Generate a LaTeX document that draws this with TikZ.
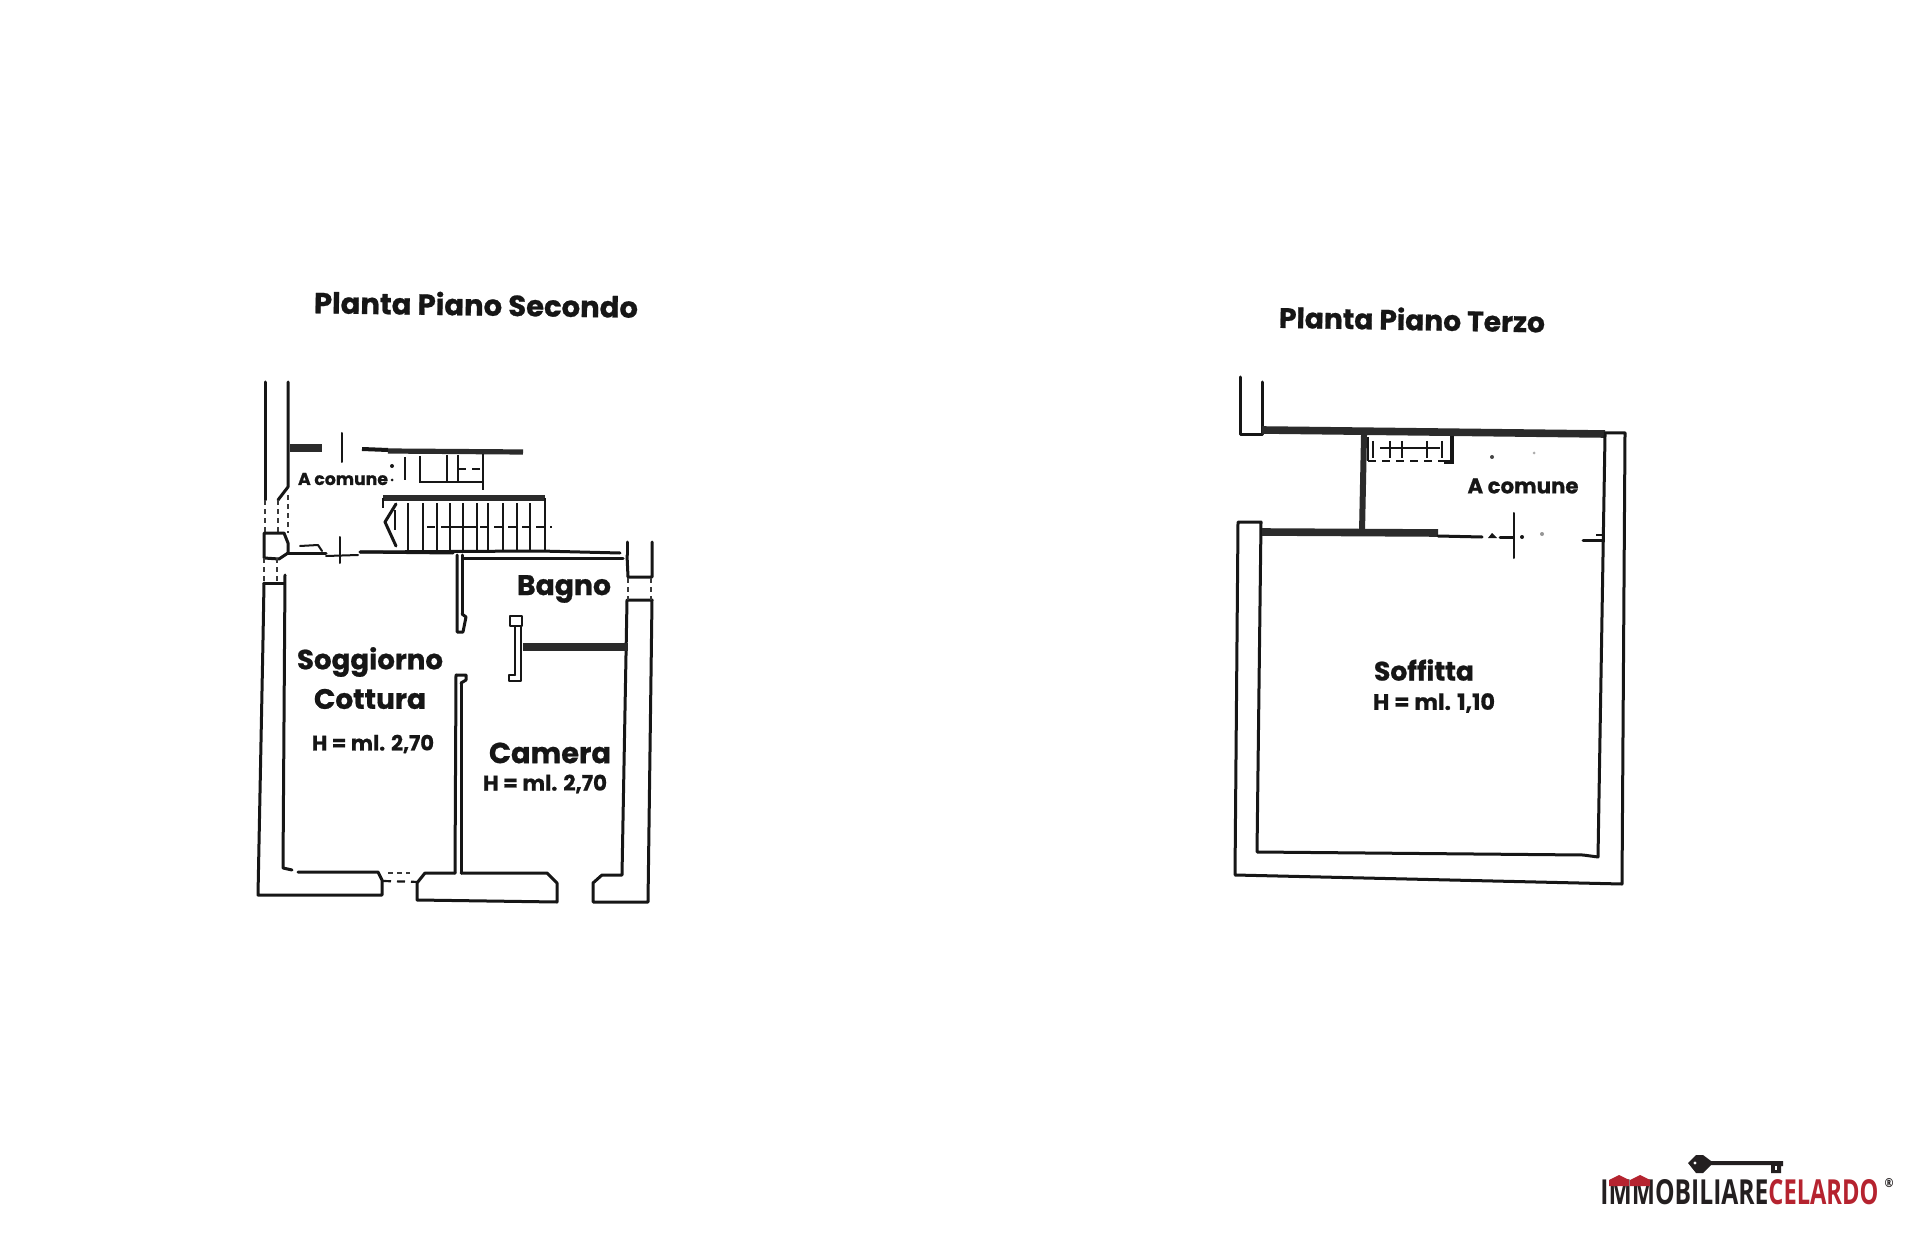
\documentclass[tikz,border=0pt]{standalone}
\usepackage{fontspec}
\setmainfont{Poppins}[BoldFeatures={FakeBold=0.8}]
\newfontfamily\logofont{Open Sans}
\usetikzlibrary{calc}
\definecolor{ink}{HTML}{161616}
\definecolor{heavyink}{HTML}{2B2B2B}
\definecolor{logored}{HTML}{B5232F}
\definecolor{logoblack}{HTML}{231F20}
\newcommand{\fitw}[2]{\resizebox{\dimexpr #1pt/2\relax}{!}{\bfseries #2}}
\newcommand{\fitbox}[3]{\resizebox{\dimexpr #1pt/2\relax}{\dimexpr #2pt/2\relax}{#3}}
\tikzset{
  x=0.5pt,y=-0.5pt,
  wall/.style={draw=ink,line width=1.5pt,line join=round,line cap=round},
  thin wall/.style={draw=ink,line width=1pt,line join=round,line cap=round},
  heavy/.style={draw=heavyink,line width=3.8pt,line cap=butt},
  rung/.style={draw=ink,line width=1.1pt},
  dashline/.style={draw=ink,line width=1.1pt,dash pattern=on 4pt off 3pt},
  dotline/.style={draw=ink!85,line width=1pt,dash pattern=on 2.5pt off 2pt},
  lbl/.style={inner sep=0pt,text=ink},
}
\begin{document}
\begin{tikzpicture}
\useasboundingbox[fill=white] (0,0) rectangle (1920,1240);

%% ---------- Left plan: Piano Secondo ----------
% left outer wall, upper part
\path[wall] (265,382) -- (265,500);
\path[dotline] (265,500) -- (265,533);
\path[wall] (288,382) -- (288,487) -- (278,500);
\path[dotline] (278,500) -- (278,533);
\path[dotline] (288,495) -- (288,533);
% pillar
\path[wall] (264,558) -- (264,533) -- (284,533) -- (288,543) -- (288,553) -- (279,559) -- (264,558);
% window below pillar
\path[dotline] (264,558) -- (264,583);
\path[dotline] (277,558) -- (277,583);
\path[wall] (264,583) -- (284,583);
% left wall and bottom left wall
\path[wall] (264,583) -- (263,640) -- (258,895) -- (382,895) -- (382,880) -- (378,872) -- (298,872);
\path[wall] (285,575) -- (283,868) -- (292,870);
% bottom window
\path[dashline] (383,881) -- (420,882);
\path[dotline] (388,873) -- (410,873);
% bottom central wall
\path[wall] (461,873) -- (547,873) -- (557,883) -- (557,902) -- (417,900) -- (417,883) -- (425,873) -- (455,873);
% bottom right wall
\path[wall] (593,902) -- (593,883) -- (602,875) -- (622,875) -- (627,600) -- (652,600) -- (648,902) -- cycle;
% right window
\path[wall] (627,542) -- (627,555);
\path[wall] (652,542) -- (652,577) -- (628,577) -- (627,555);
\path[dotline] (628,578) -- (628,600);
\path[dotline] (651,578) -- (651,600);
% corridor floor wall
\path[wall] (287,553) -- (326,553);
\path[thin wall] (300,546) -- (318,545) -- (322,551);
\path[thin wall] (326,556) -- (358,555);
\path[wall] (360,552) -- (453,553);
\path[wall] (360,552) -- (540,551) -- (620,553);
\path[wall] (463,558) -- (623,558);
\path[thin wall] (340,537) -- (340,563);
% top stubs
\path[heavy] (290,448) -- (322,448);
\path[thin wall] (342,433) -- (342,462);
\path[draw=ink,line width=2pt] (362,449) -- (388,450);
\path[draw=heavyink,line width=2.6pt] (388,451) -- (523,452);
% upper stairs
\path[rung] (405,457) -- (405,480);
\path[rung] (420,456) -- (420,482) -- (483,482) -- (483,454);
\path[rung] (447,455) -- (447,482);
\path[rung] (458,455) -- (458,482);
\path[rung] (483,482) -- (483,490);
\path[dashline] (458,469) -- (480,469);
\path[fill=ink] (392,466) circle[radius=2];
\path[fill=ink] (392,480) circle[radius=1.5];
% lower stairs
\path[draw=heavyink,line width=2.6pt] (383,498) -- (545,498);
\path[rung] (383,498) -- (383,508);
\path[rung] (545,498) -- (545,550);
\foreach \xx in {408,423,437,450,463,477,488,503,517,530} {\path[rung] (\xx,503) -- (\xx,550);}
\path[wall] (396,504) -- (385,522) -- (396,546);
\path[rung] (395,510) -- (395,530);
\path[dashline] (427,527) -- (450,527);
\path[rung] (450,527) -- (477,527);
\path[dashline] (480,527) -- (552,527);
% partition upper
\path[wall] (457,555) -- (457,632) -- (463,632) -- (466,617) -- (462,614);
\path[wall] (462,555) -- (462,614);
% partition lower
\path[wall] (456,675) -- (455,873);
\path[wall] (461,683) -- (461,873);
\path[wall] (456,675) -- (466,675) -- (466,680) -- (461,683);
% Bagno door jamb
\path[thin wall] (510,616) rectangle (522,626);
\path[thin wall] (515,626) -- (515,675);
\path[thin wall] (521,626) -- (521,681) -- (509,681) -- (509,675) -- (515,675);
% Bagno / Camera wall
\path[heavy] (523,647) -- (628,647);

%% ---------- Right plan: Piano Terzo ----------
\path[wall] (1240,377) -- (1240,435) -- (1262,435) -- (1262,382);
\path[heavy] (1262,430) -- (1605,434);
\path[wall] (1605,433) -- (1625,433) -- (1622,884) -- (1235,875) -- (1238,522) -- (1261,522) -- (1257,852) -- (1583,855) -- (1598,857) -- (1605,435);
% mid wall
\path[heavy] (1262,532) -- (1438,533);
\path[wall] (1438,536) -- (1482,537);
\path[fill=ink] (1488,538) -- (1492,533) -- (1497,538) -- cycle;
\path[wall] (1500,537) -- (1513,537);
\path[thin wall] (1514,513) -- (1514,558);
\path[fill=ink] (1522,537) circle[radius=2];
\path[fill=ink!45] (1542,534) circle[radius=2];
\path[wall] (1583,540) -- (1602,540);
\path[draw=ink,line width=1.2pt] (1596,535) -- (1602,535);
% vertical wall
\path[draw=heavyink,line width=3pt] (1364,435) -- (1362,532);
% stairs
\path[rung] (1368,437) -- (1368,461);
\path[draw=ink,line width=2pt] (1452,436) -- (1452,462) -- (1444,462);
\path[dashline] (1368,461) -- (1445,461);
\path[rung] (1380,448) -- (1440,448);
\foreach \xx in {1373,1390,1402,1427,1442} {\path[rung] (\xx,441) -- (\xx,458);}
\path[fill=ink!80] (1492,457) circle[radius=2];
\path[fill=ink!35] (1534,453) circle[radius=1.5];

%% ---------- Texts ----------
\node[lbl,rotate=-0.8] (titleA) at (476,304) {\fitw{324}{Planta Piano Secondo}};
\node[lbl,rotate=-1] (titleB) at (1412,319) {\fitw{266}{Planta Piano Terzo}};
\node[lbl] (comA) at (343,479) {\fitw{90}{A comune}};
\node[lbl] (comB) at (1523,486) {\fitw{111}{A comune}};
\node[lbl] (bagno) at (564,589) {\fitw{94}{Bagno}};
\node[lbl] (sogg) at (370,662) {\fitw{146}{Soggiorno}};
\node[lbl] (cott) at (370,699) {\fitw{112}{Cottura}};
\node[lbl] (hA) at (373,744) {\fitw{122}{H = ml. 2,70}};
\node[lbl] (cam) at (550,753) {\fitw{122}{Camera}};
\node[lbl] (hB) at (545,784) {\fitw{124}{H = ml. 2,70}};
\node[lbl] (soff) at (1424,670) {\fitw{100}{Soffitta}};
\node[lbl] (hC) at (1434,703) {\fitw{122}{H = ml. 1,10}};

%% ---------- Logo ----------
\node[inner sep=0pt,anchor=south west,text=logoblack] (logoA) at (1600,1205) {\fitbox{168}{25}{\logofont\bfseries IMMOBILIARE}};
\node[inner sep=0pt,anchor=south west,text=logored] (logoB) at (1768,1205) {\fitbox{110}{25}{\logofont\bfseries CELARDO}};
\node[inner sep=0pt,text=logoblack] (logoR) at (1889,1183) {\fitbox{9}{9}{\logofont\bfseries ®}};
\path[fill=logored] (1609,1186) -- (1609,1180) -- (1619,1175) -- (1629,1180) -- (1629,1186) -- cycle;
\path[fill=logored] (1630,1186) -- (1630,1180) -- (1640,1175) -- (1650,1180) -- (1650,1186) -- cycle;
% key
\path[fill=logoblack] (1688,1163) -- (1696,1155) -- (1703,1155) -- (1711,1161) -- (1770,1161) -- (1783,1161) -- (1783,1166) -- (1781,1166) -- (1781,1173) -- (1771,1173) -- (1771,1165) -- (1711,1165) -- (1703,1173) -- (1696,1173) -- cycle;
\path[fill=white] (1695,1163) circle[radius=1.6];
\path[fill=white] (1775,1166) rectangle (1777,1170);
\end{tikzpicture}
\end{document}
